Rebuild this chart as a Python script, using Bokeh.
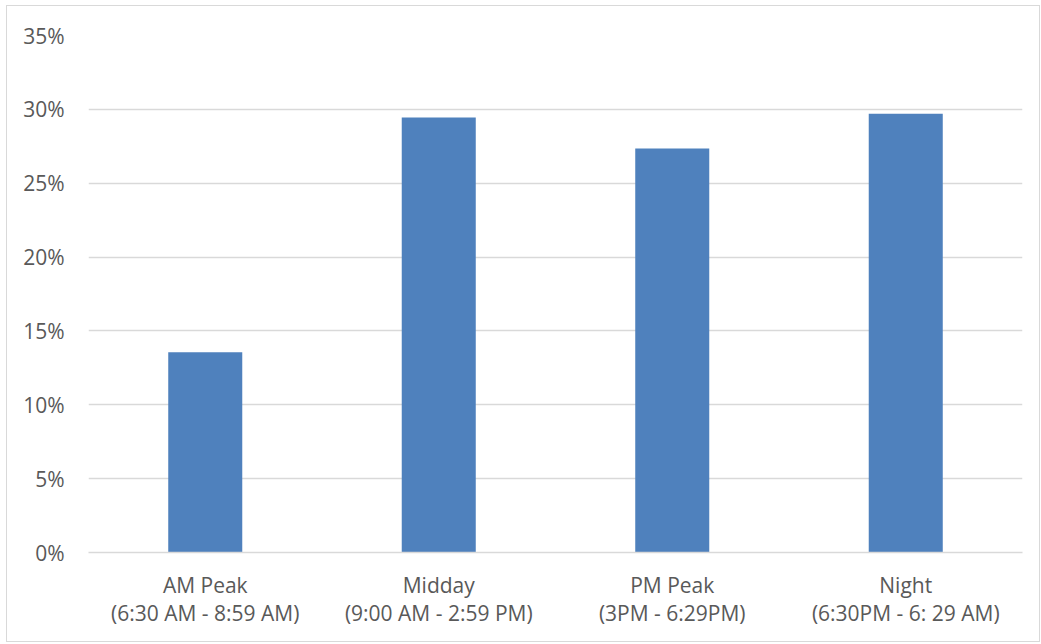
from bokeh.plotting import figure
from bokeh.models import NumeralTickFormatter, FixedTicker, CategoricalAxis, FactorRange
from bokeh.embed import file_html
from bokeh.resources import INLINE

categories = ["AM Peak", "Midday", "PM Peak", "Night"]
subtitles = ["(6:30 AM - 8:59 AM)", "(9:00 AM - 2:59 PM)", "(3PM - 6:29PM)", "(6:30PM - 6: 29 AM)"]
shares = [0.1355, 0.2945, 0.2735, 0.2970]
y_ticks = [0, 0.05, 0.10, 0.15, 0.20, 0.25, 0.30, 0.35]

FONT = "Open Sans"
TXT = "#595959"
GRID = "#D9D9D9"

p = figure(x_range=categories, y_range=(0, 0.35), width=1034, height=637,
           output_backend="svg", toolbar_location=None,
           min_border_left=81, min_border_right=19, min_border_top=29, min_border_bottom=91)
p.styles = {"border": "1px solid #D9D9D9", "margin-left": "6px", "margin-top": "5px"}
p.outline_line_color = None
p.background_fill_color = "white"
p.border_fill_color = "white"

p.vbar(x=categories, top=shares, width=0.317, color="#4F81BD", line_color=None)

p.yaxis.ticker = FixedTicker(ticks=y_ticks)
p.yaxis.formatter = NumeralTickFormatter(format="0%")
p.yaxis.axis_line_color = None
p.yaxis.major_tick_line_color = None
p.yaxis.minor_tick_line_color = None
p.yaxis.major_tick_out = 0
p.yaxis.major_tick_in = 0
p.yaxis.major_label_standoff = 24
p.yaxis.major_label_text_font = FONT
p.yaxis.major_label_text_font_size = "21px"
p.yaxis.major_label_text_color = TXT

p.xaxis.axis_line_color = GRID
p.xaxis.axis_line_width = 1.5
p.xaxis.major_tick_line_color = None
p.xaxis.minor_tick_line_color = None
p.xaxis.major_tick_out = 0
p.xaxis.major_tick_in = 0
p.xaxis.major_label_standoff = 18
p.xaxis.major_label_text_font = FONT
p.xaxis.major_label_text_font_size = "21px"
p.xaxis.major_label_text_color = TXT

p.extra_x_ranges = {"sub": FactorRange(factors=subtitles)}
ax2 = CategoricalAxis(x_range_name="sub", axis_line_color=None, major_tick_line_color=None,
                      minor_tick_line_color=None, major_tick_out=0, major_tick_in=0,
                      major_label_standoff=-3, major_label_text_font=FONT,
                      major_label_text_font_size="21px", major_label_text_color=TXT)
p.add_layout(ax2, "below")

p.xgrid.grid_line_color = None
p.ygrid.grid_line_color = GRID
p.ygrid.grid_line_width = 1.5

open("out.html", "w").write(file_html(p, INLINE))
